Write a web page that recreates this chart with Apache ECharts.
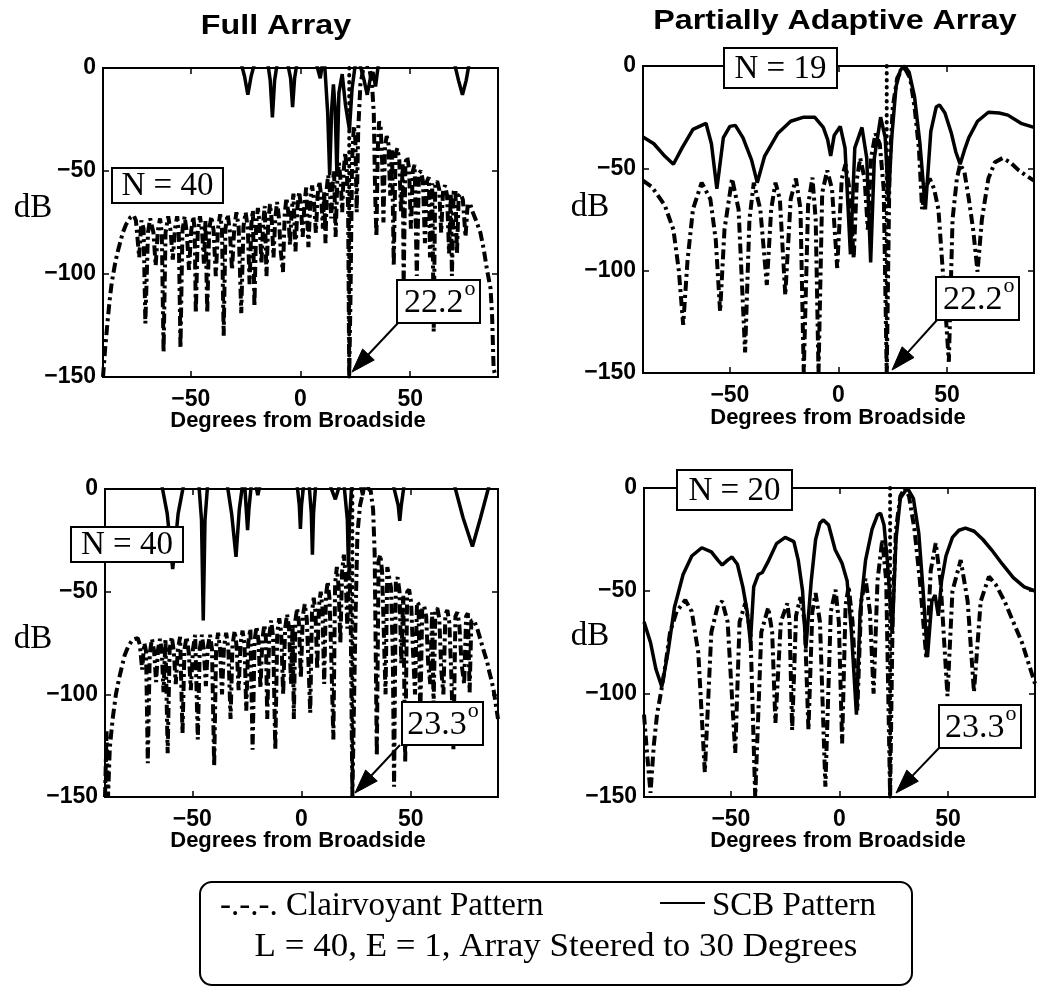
<!DOCTYPE html>
<html><head><meta charset="utf-8">
<script src="https://cdn.jsdelivr.net/npm/echarts@6/dist/echarts.min.js"></script>
<style>html,body{margin:0;padding:0;background:#fff}#c{width:1038px;height:1000px}</style>
</head><body><div id="c"></div>
<script>
// ---------- text / tick data ----------
const titles = ['Full Array', 'Partially Adaptive Array'];
const xName = 'Degrees from Broadside';
const yName = 'dB';
const xTicks = [-50, 0, 50];
const interfAngles = [22.2, 22.2, 23.3, 23.3];
const nLabels = ['N = 40', 'N = 19', 'N = 40', 'N = 20'];
const angleLabels = ['22.2', '22.2', '23.3', '23.3'];
const legendLine1a = '-.-.-. Clairvoyant Pattern';
const legendLine1b = 'SCB Pattern';
const legendLine2 = 'L = 40, E = 1, Array Steered to 30 Degrees';

// ---------- series data ----------
// Full array, interference at 22.2 deg
const clairFullA = [[-90,-150],[-89,-136],[-88,-124],[-87,-113],[-86,-104],[-84.5,-95],[-83.5,-90],[-82,-84],[-81,-80],[-79.5,-76],[-77.5,-72.5],[-76,-71.5],[-75,-74],
[-73.5,-92],[-72.5,-74],[-71.5,-78],[-70.7,-124],[-69.5,-80],[-68.5,-73],[-67,-80],[-66,-96],[-65,-79],[-64,-73],[-63.2,-80],[-62.4,-138],[-61.5,-80],[-60.3,-72],[-59.2,-79],[-58.2,-93],[-57.2,-78],[-56.2,-72],[-55.5,-79],[-54.7,-136],[-53.8,-79],[-52.8,-72],[-51.8,-80],[-50.8,-98],[-49.8,-79],[-48.8,-72],[-48.2,-80],[-47.7,-119],[-46.8,-79],[-45.8,-72],[-44.8,-80],[-44,-95],[-43.3,-74],[-42.5,-119],[-41.6,-78],[-40.6,-72],[-39.6,-79],[-38.6,-101],[-37.6,-78],[-36.6,-71],[-35.8,-78],[-35,-130],[-34.2,-78],[-33.2,-71],[-32.2,-79],[-31.2,-98],[-30.2,-78],[-29.2,-70],[-28.2,-77],[-27,-119],[-26,-77],[-25,-70],[-24,-78],[-23.2,-105],[-22.4,-76],[-21.7,-69],[-21,-116],[-20.2,-76],[-19.4,-68],[-18.6,-76],[-17.8,-95],[-17,-75],[-16.3,-67],[-15.5,-101],[-14.7,-75],[-13.9,-66],[-13.1,-74],[-12.3,-92],[-11.5,-73],[-10.7,-65],[-9.9,-72],[-9,-89],[-8,-99],[-7.2,-71],[-6.4,-63],[-5.6,-70],[-4.8,-86],[-4,-69],[-3.2,-61],[-2.3,-89],[-1.4,-68],[-0.6,-60],[0.2,-67],[1,-82],[1.8,-66],[2.6,-58],[3.6,-87],[4.5,-65],[5.3,-57],[6.1,-64],[7,-80],[7.8,-62],[8.6,-55],[9.4,-62],[10.2,-78],[10.8,-60],[11.4,-85],[12,-58],[12.6,-52],[13.3,-58],[14,-73],[14.7,-56],[15.3,-50],[16,-82],[16.8,-54],[17.5,-46],[18.3,-55],[19,-70],[19.7,-50],[20.4,-41],[21.1,-50],[21.7,-68],[22.2,-150],
[22.8,-110],[23.5,-45],[24.3,-28],[25,-35],[25.6,-70],[26.3,-30],[27.3,-8],[28.5,-1],[30,1],[31.5,-1],[32.6,-8],[33.4,-22],[34,-60],[34.6,-82],[35.2,-40],[35.8,-26],[36.5,-28],[37.2,-45],[37.8,-75],[38.5,-38],[39.3,-33],[40.1,-37],[40.9,-62],[41.7,-40],[42.5,-96],[43.3,-42],[44.1,-39],[45,-44],[45.8,-70],[46.6,-46],[47,-106],[47.8,-46],[48.6,-43],[49.5,-49],[50.3,-78],[51.2,-50],[52,-47],[53,-101],[54,-51],[54.9,-50],[55.8,-55],[56.7,-85],[57.6,-55],[58.5,-53],[59,-92],[60,-56],[60.7,-128],[61.4,-56],[62.3,-55],[63.2,-59],[64.1,-80],[65,-59],[65.9,-57],[66.8,-62],[67.7,-90],[68.5,-61],[69,-101],[69.8,-60],[70.6,-59],[71.3,-90],[72.1,-62],[73,-61],[74,-64],[75.2,-82],[76.2,-66],[77.3,-66],[78.5,-70],[80,-74],[82,-80],[83.5,-88],[85,-98],[86.6,-107],[87.3,-120],[88,-146],[89,-150]];

const scbFullA = [[-90,8],[-27,2],[-25.5,-4],[-24,-13],[-22.5,-4],[-21,2],[-15,3],[-13.8,-6],[-12.8,-24],[-11.8,-6],[-10.5,3],[-6,3],[-4.5,-5],[-3.6,-19],[-2.7,-5],[-1.5,3],[7,3],[9,-5],[10,2],[11,2],[12.4,-22],[13.3,-52],[14.2,-20],[15,-8],[15.8,-20],[16.6,-52],[17.5,-12],[19,-3],[20.5,-18],[22.3,-30],[23.5,-10],[25,2],[27,2],[29,-6],[30.4,-13],[32,-4],[33,-2],[34.2,-9],[35.5,2],[70,3],[72,-6],[73.8,-13],[75.5,-6],[77,3],[90,8]];

// Partially adaptive, N = 19, interference at 22.2 deg
const clairPartA = [[-90,-56],[-86,-59],[-80,-68],[-76,-80],[-73.5,-100],[-71.5,-126.5],[-69.5,-95],[-67,-70],[-63,-57],[-59,-65],[-56.5,-85],[-54.5,-120],[-52.5,-80],[-49,-55],[-46,-70],[-43,-140],[-41,-75],[-39,-57],[-36,-70],[-33,-107],[-31,-70],[-29,-57],[-27,-65],[-24.5,-112],[-22,-65],[-19.6,-55],[-17.5,-70],[-16,-150],[-14,-68],[-12,-54.5],[-10.5,-75],[-9.2,-150],[-7.5,-62],[-5.2,-51],[-3,-60],[-0.6,-98.7],[1.5,-55],[3.2,-48],[5,-60],[7,-94],[8.5,-55],[10,-45],[12,-55],[13.5,-80],[15,-45],[17,-33],[19,-38],[20.8,-60],[22.2,-150],[23.5,-50],[25,-20],[27,-6],[30,0],[33,-6],[35,-20],[37,-40],[38.5,-70],[40,-60],[42,-55],[44,-60],[46,-70],[48,-100],[50.8,-144.5],[52.5,-75],[54.5,-55],[56,-48],[58,-52],[60,-65],[62,-80],[64,-100.5],[66,-75],[69,-55],[72,-47],[75.5,-45],[79,-47],[83,-51],[87,-54],[90,-56]];

const scbPartA = [[-90,-34.7],[-85,-38],[-80,-44],[-76,-48],[-72,-40],[-67,-31],[-61,-28],[-58.5,-38],[-56,-60],[-53,-35],[-50,-29.5],[-47.5,-29],[-44,-35],[-40,-46],[-37.4,-57],[-34,-44],[-28,-33],[-22,-27],[-16,-25],[-11,-25],[-7,-30],[-5,-36],[-3.6,-44],[-2,-34],[0.8,-29.5],[3,-40],[5.5,-92],[7.5,-40],[10.8,-30],[13,-45],[14.8,-96],[16.5,-45],[19.4,-25],[21.5,-35],[23,-66],[24.5,-35],[26.5,-10],[28.5,-2],[30.5,0],[32.5,-3],[35,-15],[37.5,-38],[40,-70],[42.5,-32],[45,-20],[46.5,-19],[49,-23],[52,-33],[54,-42],[56,-48],[58,-41],[60,-35],[64,-27],[69,-22.6],[74,-23],[78,-24],[84,-28],[90,-30]];

// Full array, interference at 23.3 deg
const clairFullB = [[-90,-150],[-89.3,-118],[-88.6,-150],[-87.8,-126],[-86.5,-112],[-85,-100],[-83.5,-92],[-82.6,-88],[-81,-81],[-79.5,-77],[-77.5,-73.5],[-75,-72.6],[-74,-76],
[-73,-88],[-72,-75],[-71.2,-79],[-70.4,-133.6],[-69.5,-80],[-68.5,-73],[-67.5,-79],[-66.6,-94],[-65.7,-78],[-64.8,-73],[-64,-79],[-63.2,-99],[-62.3,-73],[-61.3,-128.7],[-60.4,-78],[-59.4,-72],[-58.5,-79],[-57.6,-95],[-56.6,-78],[-55.6,-72],[-54.5,-119],[-53.6,-78],[-52.6,-72],[-51.6,-80],[-50.7,-98],[-49.7,-78],[-48.7,-71],[-47.5,-122],[-46.6,-78],[-45.6,-71],[-44.7,-79],[-43.8,-96],[-42.9,-77],[-41.9,-71],[-41,-78],[-40,-135],[-39.1,-77],[-38.2,-70],[-37.3,-78],[-36.4,-100],[-35.5,-77],[-34.5,-70],[-33.5,-78],[-32.5,-112],[-31.6,-76],[-30.6,-69],[-29.7,-77],[-28.8,-98],[-27.9,-75],[-27,-69],[-26.1,-76],[-25.3,-108],[-24.4,-75],[-23.4,-68],[-22.4,-127],[-21.5,-74],[-20.6,-67],[-19.7,-74],[-18.8,-97],[-17.9,-73],[-17,-66],[-16.3,-73],[-15.7,-112],[-14.8,-72],[-13.9,-64],[-13,-72],[-12,-127],[-11.1,-70],[-10.2,-63],[-9.3,-70],[-8.4,-100],[-7.5,-68],[-6.6,-61],[-5.7,-68],[-4.8,-95],[-4.1,-66],[-3.5,-112],[-2.8,-64],[-2,-58],[-1.2,-65],[-0.3,-92],[0.6,-62],[1.5,-56],[2.4,-63],[3.2,-85],[4,-109],[4.8,-60],[5.6,-53],[6.4,-60],[7.2,-88],[8,-57],[8.8,-50],[9.6,-58],[10.4,-95],[11.2,-52],[12,-45],[12.8,-53],[13.6,-80],[14.6,-122],[15.4,-46],[16.2,-38],[17,-48],[17.8,-75],[18.6,-40],[19.4,-32],[20.2,-42],[21,-68],[21.8,-35],[22.5,-60],[23.3,-150],
[24,-150],[24.8,-60],[25.6,-22],[26.8,-8],[28.3,-1],[30,1],[31.7,-1],[32.8,-10],[33.5,-31],[34.5,-130],[35.3,-35],[36.1,-32],[36.9,-40],[37.7,-70],[38.5,-100],[39.3,-38],[40.1,-38],[41,-48],[41.8,-80],[42.4,-145],[43.2,-45],[44,-43],[44.9,-50],[45.7,-85],[46.6,-52],[47.5,-133],[48.4,-50],[49.3,-49],[50.2,-55],[51.1,-80],[52,-100],[52.9,-55],[53.6,-56],[54.4,-112],[55.3,-58],[56.2,-57],[57.1,-62],[58,-85],[59,-95],[59.8,-60],[60.5,-106],[61.3,-59],[62.2,-58],[63.1,-63],[64,-88],[65,-100],[65.9,-61],[66.8,-59],[67.7,-65],[68.6,-90],[69.6,-127],[70.5,-62],[71.4,-60],[72.3,-66],[73.3,-85],[74.5,-95],[75.4,-62],[76.2,-60.5],[77,-99],[77.8,-64],[79,-64],[80.5,-68],[82,-73.5],[83.5,-79],[85,-84],[86,-89],[87,-93],[88,-98],[89,-105],[90,-112]];

const scbFullB = [[-90,8],[-64,2],[-61.5,-12],[-59,-39],[-56.5,-12],[-54,2],[-47,2],[-45.8,-15],[-45,-64],[-44.2,-15],[-43,2],[-34,2],[-32,-12],[-30,-33],[-28.5,-10],[-27,2],[-26,2],[-25.3,-10],[-24.7,-20],[-24.1,-10],[-23,2],[-21,2],[-20,-3],[-19,2],[-2,2],[-1,-8],[-0.5,-19.5],[0,-8],[1,2],[3.5,2],[4.5,-12],[5,-32],[5.5,-12],[6.5,2],[13,2],[15.5,-5],[17.5,2],[19.5,2],[21,-15],[21.5,-38],[22,-15],[23,2],[27,2],[28,-3],[29,2],[42,2],[44.3,-8],[45,-15.5],[45.7,-8],[47,2],[70,2],[74,-14],[78.3,-28],[82,-14],[86,2],[90,4]];

// Partially adaptive, N = 20, interference at 23.3 deg
const clairPartB = [[-90,-110],[-88.5,-130],[-87,-148],[-85.5,-125],[-84,-110],[-82,-98],[-80,-85],[-78,-70],[-75,-60],[-71,-54.4],[-68,-60],[-65,-80],[-62,-138],[-59,-70],[-56,-57],[-54,-55],[-51.5,-65],[-48,-128.6],[-46,-65],[-43.4,-56],[-41,-70],[-38.8,-150],[-36,-70],[-32.8,-58],[-31,-70],[-29.5,-114],[-27,-65],[-24,-56],[-23,-65],[-21.8,-117.5],[-20,-62],[-18,-53],[-16,-65],[-14.3,-117.5],[-12.5,-60],[-11,-51],[-9,-65],[-6.5,-145],[-4,-60],[-1.8,-49.4],[-0.3,-65],[1.2,-124],[2.8,-57],[4.2,-47.6],[6,-65],[8.2,-108],[10,-55],[12,-44],[14,-60],[15.7,-99.8],[17.5,-45],[19.7,-25],[21.5,-45],[23.3,-150],[24.5,-60],[26,-20],[28,-4],[30,0],[32,-4],[34.5,-20],[37,-45],[40,-83],[42,-40],[44.3,-26.7],[46.5,-45],[49.7,-101],[52,-50],[55.8,-35],[59,-55],[61.9,-99],[65,-55],[68.8,-43],[72,-47],[76,-55],[80,-65],[84,-75],[87,-85],[90,-95]];

const scbPartB = [[-90,-65],[-87,-75],[-84.5,-88],[-81.8,-96.5],[-79,-80],[-76,-58],[-72,-42],[-68,-33],[-63.4,-29],[-59,-31],[-56,-35],[-54,-37.4],[-51.5,-35],[-49.5,-33.5],[-47,-37],[-44.5,-48],[-42.5,-60],[-41,-75],[-39.5,-48],[-37.4,-42],[-35.5,-41],[-33,-36],[-29,-27],[-25,-24],[-21,-26],[-19,-35],[-17,-50],[-15.5,-78],[-13,-45],[-11,-25],[-9,-17],[-7.4,-15.5],[-5,-18],[-2,-30],[1.2,-36.6],[3.5,-45],[5.5,-70],[7.8,-110],[9.5,-60],[12,-35],[15,-20],[17.5,-13],[18.9,-12.3],[20.5,-18],[22,-35],[24.3,-70.5],[26,-25],[28,-5],[31.2,0],[34,-5],[36.5,-22],[38.5,-50],[40.5,-82],[42.5,-55],[44,-52],[45.5,-62],[47,-45],[49,-33],[52,-24],[55,-20.5],[58,-19.5],[62,-21],[66,-25],[70,-30],[75,-37],[80,-43.5],[85,-48],[90,-50]];

// ---------- layout ----------
const panels = [
  {g:[103,68,395,309], clair:clairFullA, scb:scbFullA, nBox:[112,168,111,35], aBox:[397,280,83,43], arrow:[398,323,352,372], dB:[33,208], xn:[298,421]},
  {g:[643,66,391,307], clair:clairPartA, scb:scbPartA, nBox:[724,48,113,40], aBox:[936,277,83,43], arrow:[937,320,892,370], dB:[590,207], xn:[838,418]},
  {g:[105,489,393,308], clair:clairFullB, scb:scbFullB, nBox:[71,527,112,35], aBox:[402,702,81,43], arrow:[400,745,355,793], dB:[33,639], xn:[298,841]},
  {g:[644,488,391,309], clair:clairPartB, scb:scbPartB, nBox:[677,470,115,40], aBox:[939,705,82,43], arrow:[939,748,896,793], dB:[590,636], xn:[838,841]}
];

const SANS = '"Liberation Sans", Arial, Helvetica, sans-serif';
const SERIF = '"Liberation Serif", "Times New Roman", serif';
const fmt = v => String(v).replace('-', '\u2212');
const tickStyle = {color:'#000', width:1.5};
const noLine = {show:false, onZero:false};

const chart = echarts.init(document.getElementById('c'), null, {renderer:'canvas'});
const option = {animation:false, backgroundColor:'#fff', grid:[], xAxis:[], yAxis:[], series:[], graphic:[]};

panels.forEach((p, i) => {
  option.grid.push({left:p.g[0], top:p.g[1], width:p.g[2], height:p.g[3], show:true, borderColor:'#000', borderWidth:2});
  option.xAxis.push({type:'value', gridIndex:i, min:-90, max:90, position:'bottom',
    axisLine:noLine, splitLine:{show:false},
    axisTick:{inside:true, length:6, lineStyle:tickStyle, customValues:xTicks},
    axisLabel:{customValues:xTicks, margin:11, color:'#000', fontSize:23, fontWeight:'bold', fontFamily:SANS, formatter:fmt}});
  option.xAxis.push({type:'value', gridIndex:i, min:-90, max:90, position:'top',
    axisLine:noLine, splitLine:{show:false},
    axisTick:{inside:true, length:6, lineStyle:tickStyle, customValues:xTicks}, axisLabel:{show:false}});
  option.yAxis.push({type:'value', gridIndex:i, min:-150, max:0, interval:50, position:'left',
    axisLine:noLine, splitLine:{show:false},
    axisTick:{inside:true, length:6, lineStyle:tickStyle},
    axisLabel:{margin:7, color:'#000', fontSize:23, fontWeight:'bold', fontFamily:SANS, formatter:fmt}});
  option.yAxis.push({type:'value', gridIndex:i, min:-150, max:0, interval:50, position:'right',
    axisLine:noLine, splitLine:{show:false},
    axisTick:{inside:true, length:6, lineStyle:tickStyle}, axisLabel:{show:false}});

  option.series.push({type:'line', xAxisIndex:2*i, yAxisIndex:2*i, data:p.clair, symbol:'none', clip:true, silent:true,
    lineStyle:{color:'#000', width:4, type:[10,4,3,4]}, z:2});
  option.series.push({type:'line', xAxisIndex:2*i, yAxisIndex:2*i, data:p.scb, symbol:'none', clip:true, silent:true,
    lineStyle:{color:'#000', width:3.5, type:'solid'}, z:3});
  const a = interfAngles[i];
  option.series.push({type:'line', xAxisIndex:2*i, yAxisIndex:2*i, data:[[a,0],[a,-150]], symbol:'none', clip:true, silent:true,
    lineStyle:{color:'#000', width:4, type:[0.5,6.5], cap:'round'}, z:4});

  option.graphic.push({type:'text', x:p.dB[0], y:p.dB[1], z:100,
    style:{text:yName, font:'33px ' + SERIF, fill:'#000', align:'center', verticalAlign:'middle'}});
  option.graphic.push({type:'text', x:p.xn[0], y:p.xn[1], z:100,
    style:{text:xName, font:'bold 22px ' + SANS, fill:'#000', align:'center', verticalAlign:'middle'}});
  const nb = p.nBox;
  option.graphic.push({type:'rect', z:100, shape:{x:nb[0], y:nb[1], width:nb[2], height:nb[3]},
    style:{fill:'#fff', stroke:'#000', lineWidth:2}});
  option.graphic.push({type:'text', z:101, x:nb[0]+nb[2]/2, y:nb[1]+nb[3]/2+1,
    style:{text:nLabels[i], font:'33px ' + SERIF, fill:'#000', align:'center', verticalAlign:'middle'}});
  const ab = p.aBox;
  option.graphic.push({type:'rect', z:100, shape:{x:ab[0], y:ab[1], width:ab[2], height:ab[3]},
    style:{fill:'#fff', stroke:'#000', lineWidth:2}});
  option.graphic.push({type:'text', z:101, x:ab[0]+ab[2]*0.8, y:ab[1]+ab[3]/2+2,
    style:{text:angleLabels[i], font:'34px ' + SERIF, fill:'#000', align:'right', verticalAlign:'middle'}});
  option.graphic.push({type:'text', z:101, x:ab[0]+ab[2]*0.8+1, y:ab[1]+9,
    style:{text:'o', font:'22px ' + SERIF, fill:'#000', align:'left', verticalAlign:'middle'}});
  const [sx, sy, tx, ty] = p.arrow;
  const dx = tx - sx, dy = ty - sy, len = Math.hypot(dx, dy);
  const ux = dx/len, uy = dy/len, L = 24, W = 8;
  const bx = tx - ux*L, by = ty - uy*L;
  option.graphic.push({type:'line', z:100, shape:{x1:sx, y1:sy, x2:bx, y2:by}, style:{stroke:'#000', lineWidth:2}});
  option.graphic.push({type:'polygon', z:100, shape:{points:[[tx,ty],[bx - uy*W, by + ux*W],[bx + uy*W, by - ux*W]]}, style:{fill:'#000', stroke:'#000', lineWidth:1}});
});

option.graphic.push({type:'text', x:276, y:26, scaleX:1.15, z:100,
  style:{text:titles[0], font:'bold 28px ' + SANS, fill:'#000', align:'center', verticalAlign:'middle'}});
option.graphic.push({type:'text', x:835, y:21, scaleX:1.15, z:100,
  style:{text:titles[1], font:'bold 28px ' + SANS, fill:'#000', align:'center', verticalAlign:'middle'}});

option.graphic.push({type:'rect', z:100, shape:{x:200, y:882, width:712, height:103, r:12},
  style:{fill:'#fff', stroke:'#000', lineWidth:2}});
option.graphic.push({type:'text', z:101, x:220, y:906,
  style:{text:legendLine1a, font:'33px ' + SERIF, fill:'#000', align:'left', verticalAlign:'middle'}});
option.graphic.push({type:'line', z:101, shape:{x1:660, y1:903, x2:705, y2:903}, style:{stroke:'#000', lineWidth:2}});
option.graphic.push({type:'text', z:101, x:712, y:906,
  style:{text:legendLine1b, font:'33px ' + SERIF, fill:'#000', align:'left', verticalAlign:'middle'}});
option.graphic.push({type:'text', z:101, x:556, y:947, scaleX:1.06,
  style:{text:legendLine2, font:'33px ' + SERIF, fill:'#000', align:'center', verticalAlign:'middle'}});

chart.setOption(option);
</script>
</body></html>
